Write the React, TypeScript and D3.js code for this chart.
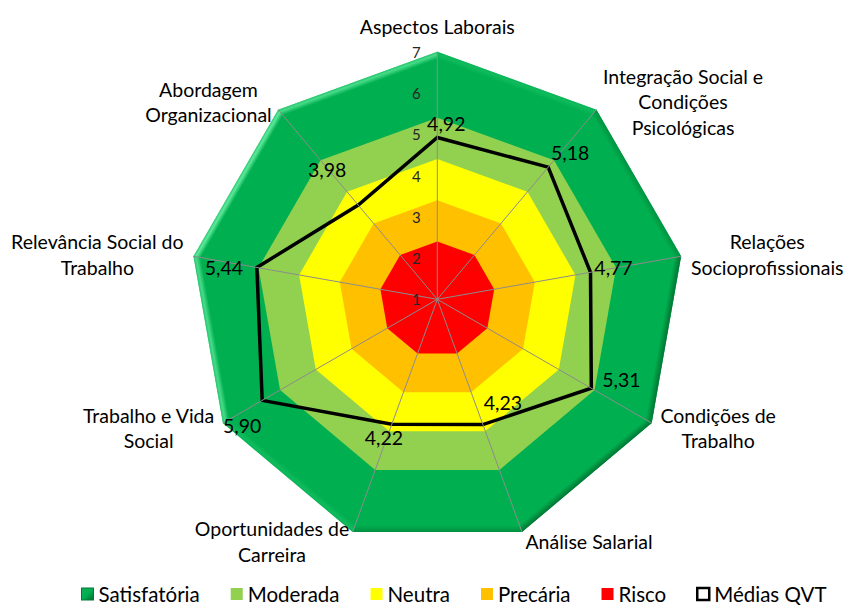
import * as d3 from "d3";
import React, { useEffect, useRef } from "react";

// categorias (quebra de linha com \n)
const categories = [
  "Aspectos Laborais",
  "Integração Social e\nCondições\nPsicológicas",
  "Relações\nSocioprofissionais",
  "Condições de\nTrabalho",
  "Análise Salarial",
  "Oportunidades de\nCarreira",
  "Trabalho e Vida\nSocial",
  "Relevância Social do\nTrabalho",
  "Abordagem\nOrganizacional",
];
const mediasQVT = [4.92, 5.18, 4.77, 5.31, 4.23, 4.22, 5.9, 5.44, 3.98];
const bandNames = ["Satisfatória", "Moderada", "Neutra", "Precária", "Risco"];
const bandLevels = [7, 5.4, 4.4, 3.4, 2.4];
const bandColors = ["#00B050", "#92D050", "#FFFF00", "#FFC000", "#FF0000"];
const tickValues = [1, 2, 3, 4, 5, 6, 7];
const seriesName = "Médias QVT";

// posição dos rótulos de dados em relação ao ponto (dx, dy)
const labelOffsets = [[9, -14], [22, -15], [23, -5], [30, -9], [20, -22], [-8, 13], [-20, 25], [-33, 0], [-31, -36]];

const width = 846;
const height = 605;
const cx = 437.3;
const cy = 299.3;
const R = 247.6;
const font = "Lato, 'Open Sans', sans-serif";

function App() {
  const svgRef: any = useRef<any>(null);

  useEffect(() => {
    document.body.style.margin = "0";
    draw();
  }, []);

  const draw = () => {
    const svg = d3.select(svgRef.current);
    svg.selectAll("*").remove();

    const n = categories.length;
    const rScale = d3.scaleLinear().domain([1, 7]).range([0, R]);
    const ang = (i: number) => (i * 2 * Math.PI) / n;
    const pt = (v: number, i: number): [number, number] => [
      cx + rScale(v) * Math.sin(ang(i)),
      cy - rScale(v) * Math.cos(ang(i)),
    ];

    const radial = d3.lineRadial<number>()
      .angle((_, i) => ang(i))
      .radius((d) => rScale(d))
      .curve(d3.curveLinearClosed);

    const defs = svg.append("defs");
    const g = svg.append("g").attr("transform", `translate(${cx},${cy})`);

    // faixas
    bandLevels.forEach((lvl, k) => {
      g.append("path")
        .attr("d", radial(d3.range(n).map(() => lvl)) as string)
        .attr("fill", bandColors[k]);
    });

    // efeito de bisel na borda externa
    const bevel = 7;
    const lightAng = -Math.PI / 3;
    for (let i = 0; i < n; i++) {
      const a0 = ang(i), a1 = ang(i + 1);
      const o0 = [R * Math.sin(a0), -R * Math.cos(a0)];
      const o1 = [R * Math.sin(a1), -R * Math.cos(a1)];
      const ri = R - bevel / Math.cos(Math.PI / n);
      const i0 = [ri * Math.sin(a0), -ri * Math.cos(a0)];
      const i1 = [ri * Math.sin(a1), -ri * Math.cos(a1)];
      const na = (a0 + a1) / 2;
      const shade = Math.cos(na - lightAng);
      const col = shade > 0
        ? d3.interpolateRgb("#00B050", "#5EE89A")(Math.min(1, shade))
        : d3.interpolateRgb("#00B050", "#006B2E")(Math.min(1, -shade));
      const gid = `bev${i}`;
      const lg = defs.append("linearGradient").attr("id", gid)
        .attr("gradientUnits", "userSpaceOnUse")
        .attr("x1", (o0[0] + o1[0]) / 2).attr("y1", (o0[1] + o1[1]) / 2)
        .attr("x2", (i0[0] + i1[0]) / 2).attr("y2", (i0[1] + i1[1]) / 2);
      lg.append("stop").attr("offset", 0).attr("stop-color", col).attr("stop-opacity", shade > 0 ? 0.5 : 0.9);
      lg.append("stop").attr("offset", 0.35).attr("stop-color", col).attr("stop-opacity", shade > 0 ? 1 : 0.6);
      lg.append("stop").attr("offset", 1).attr("stop-color", col).attr("stop-opacity", 0);
      g.append("path")
        .attr("d", `M${o0}L${o1}L${i1}L${i0}Z`)
        .attr("fill", `url(#${gid})`);
    }

    // raios
    d3.range(n).forEach((i) => {
      const [x, y] = pt(7, i);
      svg.append("line")
        .attr("x1", cx).attr("y1", cy).attr("x2", x).attr("y2", y)
        .attr("stroke", "#8C8C8C").attr("stroke-width", 1);
    });

    // rótulos do eixo
    svg.append("g").selectAll("text").data(tickValues).join("text")
      .attr("x", cx - 21)
      .attr("y", (d) => cy - rScale(d))
      .attr("text-anchor", "middle")
      .attr("dominant-baseline", "central")
      .attr("font-family", font).attr("font-size", 15)
      .attr("fill", "#262626")
      .text((d) => d);

    // série
    g.append("path")
      .attr("d", radial(mediasQVT) as string)
      .attr("fill", "none")
      .attr("stroke", "#000")
      .attr("stroke-width", 3.5)
      .attr("stroke-linejoin", "miter");

    // rótulos de dados
    svg.append("g").selectAll("text").data(mediasQVT).join("text")
      .attr("x", (d, i) => pt(d, i)[0] + labelOffsets[i][0])
      .attr("y", (d, i) => pt(d, i)[1] + labelOffsets[i][1])
      .attr("text-anchor", "middle")
      .attr("dominant-baseline", "central")
      .attr("font-family", font).attr("font-size", 19.5)
      .attr("fill", "#000")
      .text((d) => d3.format(".2f")(d).replace(".", ","));

    // categorias
    const lineH = 25.5;
    categories.forEach((cat, i) => {
      const lines = cat.split("\n");
      const [vx, vy] = pt(7, i);
      const s = Math.sin(ang(i)), c = Math.cos(ang(i));
      const H = lines.length * lineH;
      const t = svg.append("g");
      const texts = lines.map((ln) =>
        t.append("text")
          .attr("text-anchor", "middle")
          .attr("dominant-baseline", "central")
          .attr("font-family", font).attr("font-size", 19.5)
          .attr("fill", "#000")
          .text(ln)
      );
      const maxW = d3.max(texts, (tx) => (tx.node() as SVGTextElement).getComputedTextLength()) || 0;
      let bx: number, by: number;
      if (Math.abs(s) < 0.1) {
        bx = vx;
        by = vy - c * (H / 2 + 12);
      } else if (s > 0) {
        bx = vx + 10 * Math.abs(s) + maxW / 2;
        by = vy - 10 * c;
      } else {
        bx = vx - 10 * Math.abs(s) - maxW / 2;
        by = vy - 10 * c;
      }
      texts.forEach((tx, k) => {
        tx.attr("x", bx).attr("y", by - H / 2 + lineH * (k + 0.5));
      });
    });

    // legenda
    const legendItems = bandNames.map((nm, k) => ({ name: nm, fill: bandColors[k], stroke: "none" }))
      .concat([{ name: seriesName, fill: "#fff", stroke: "#000" }]);
    const lgd = svg.append("g");
    const mk = 12, gapT = 5, gapItem = 31;
    const ly = 594;
    const lgGrad = defs.append("linearGradient").attr("id", "lgSat").attr("x1", 0).attr("y1", 0).attr("x2", 1).attr("y2", 1);
    lgGrad.append("stop").attr("offset", 0).attr("stop-color", "#1FA85A");
    lgGrad.append("stop").attr("offset", 0.5).attr("stop-color", "#00B050");
    lgGrad.append("stop").attr("offset", 1).attr("stop-color", "#006B2E");
    let x = 0;
    legendItems.forEach((it, k) => {
      const item = lgd.append("g");
      item.append("rect")
        .attr("x", x).attr("y", ly - mk / 2)
        .attr("width", mk).attr("height", mk)
        .attr("fill", k === 0 ? "url(#lgSat)" : it.fill)
        .attr("stroke", it.stroke === "none" ? (k === 0 ? "#00783A" : "none") : it.stroke)
        .attr("stroke-width", it.stroke === "none" ? 1 : 2.5);
      const tx = item.append("text")
        .attr("x", x + mk + gapT).attr("y", ly)
        .attr("dominant-baseline", "central")
        .attr("font-family", font).attr("font-size", 20.5)
        .attr("fill", "#000")
        .text(it.name);
      const w = (tx.node() as SVGTextElement).getComputedTextLength();
      x += mk + gapT + w + gapItem;
    });
    const total = x - gapItem;
    lgd.attr("transform", `translate(${454 - total / 2},0)`);
  };

  return (
    <svg ref={svgRef} width={width} height={height} style={{ display: "block", background: "#fff" }} />
  );
}

export default App;
